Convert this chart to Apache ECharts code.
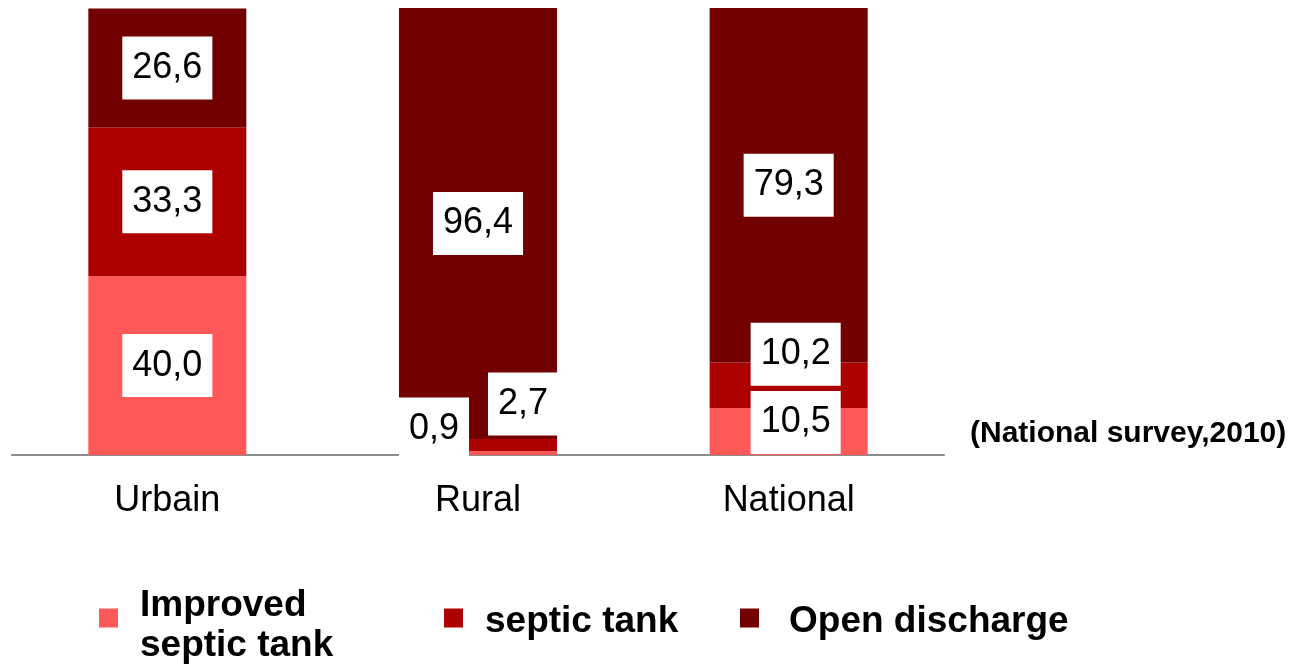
<!DOCTYPE html>
<html>
<head>
<meta charset="utf-8">
<script src="https://cdn.jsdelivr.net/npm/echarts@6/dist/echarts.min.js"></script>
<style>
  html, body { margin: 0; padding: 0; background: #ffffff; }
  #chart { width: 1303px; height: 669px; }
</style>
</head>
<body>
<div id="chart"></div>
<script>
// ---- data ----
var categories = ['Urbain', 'Rural', 'National'];
var improvedSepticTank = [40.0, 0.9, 10.5];
var septicTank = [33.3, 2.7, 10.2];
var openDischarge = [26.6, 96.4, 79.3];
var seriesNames = ['Improved septic tank', 'septic tank', 'Open discharge'];
var sourceNote = '(National survey,2010)';

// ---- layout / style (not data) ----
var FONT = '"Liberation Sans", Arial, Helvetica, sans-serif';
var colors = ['#FF5858', '#AD0000', '#730000'];
// label offsets for small segments, per series per category
var labelOffsets = [
  [[0, 0], [-44, -24], [7, -9]],
  [[0, 0], [45, -41], [7, -31]],
  [[0, 0], [0, 0], [0, 0]]
];

function fmt(v) { return v.toFixed(1).replace('.', ','); }

function makeSeries(idx, values) {
  return {
    name: seriesNames[idx],
    type: 'bar',
    stack: 'total',
    barWidth: 158,
    itemStyle: { color: colors[idx] },
    label: {
      show: true,
      position: 'inside',
      formatter: function (p) { return fmt(p.value); },
      color: '#000',
      fontFamily: FONT,
      fontSize: 36,
      backgroundColor: '#ffffff',
      padding: [14, 10, 13, 10]
    },
    emphasis: { disabled: true },
    data: values.map(function (v, i) {
      return { value: v, label: { offset: labelOffsets[idx][i] } };
    })
  };
}

function makeLegend(idx, left, top, padLeft, spacer) {
  return {
    data: [seriesNames[idx]],
    left: left,
    top: top,
    orient: 'horizontal',
    icon: 'rect',
    itemWidth: 19,
    itemHeight: 19,
    padding: 0,
    selectedMode: false,
    formatter: function (name) {
      var txt = name === 'Improved septic tank' ? 'Improved\nseptic tank' : name;
      return '{sp| }\n' + txt;
    },
    textStyle: {
      color: '#000',
      fontFamily: FONT,
      fontWeight: 'bold',
      fontSize: 37,
      lineHeight: 40,
      padding: [0, 0, 0, padLeft],
      rich: {
        sp: { fontSize: 1, lineHeight: spacer }
      }
    }
  };
}

var chart = echarts.init(document.getElementById('chart'), null, { renderer: 'canvas' });
chart.setOption({
  animation: false,
  backgroundColor: '#ffffff',
  grid: { left: 12, right: 359, top: 8, bottom: 214, containLabel: false },
  xAxis: {
    type: 'category',
    data: categories,
    axisLine: { show: true, lineStyle: { color: '#8c8c8c', width: 2 } },
    axisTick: { show: false },
    axisLabel: { color: '#000', fontFamily: FONT, fontSize: 36, margin: 28 },
    splitLine: { show: false }
  },
  yAxis: {
    type: 'value',
    min: 0,
    max: 100,
    show: false
  },
  legend: [
    makeLegend(0, 99, 570, 17, 16),
    makeLegend(1, 444, 594, 17, 8),
    makeLegend(2, 740, 594, 25, 8)
  ],
  graphic: [{
    type: 'text',
    left: 970,
    top: 419,
    style: {
      text: sourceNote,
      fill: '#000',
      font: 'bold 30px ' + FONT
    }
  }],
  series: [
    makeSeries(0, improvedSepticTank),
    makeSeries(1, septicTank),
    makeSeries(2, openDischarge)
  ]
});
</script>
</body>
</html>
